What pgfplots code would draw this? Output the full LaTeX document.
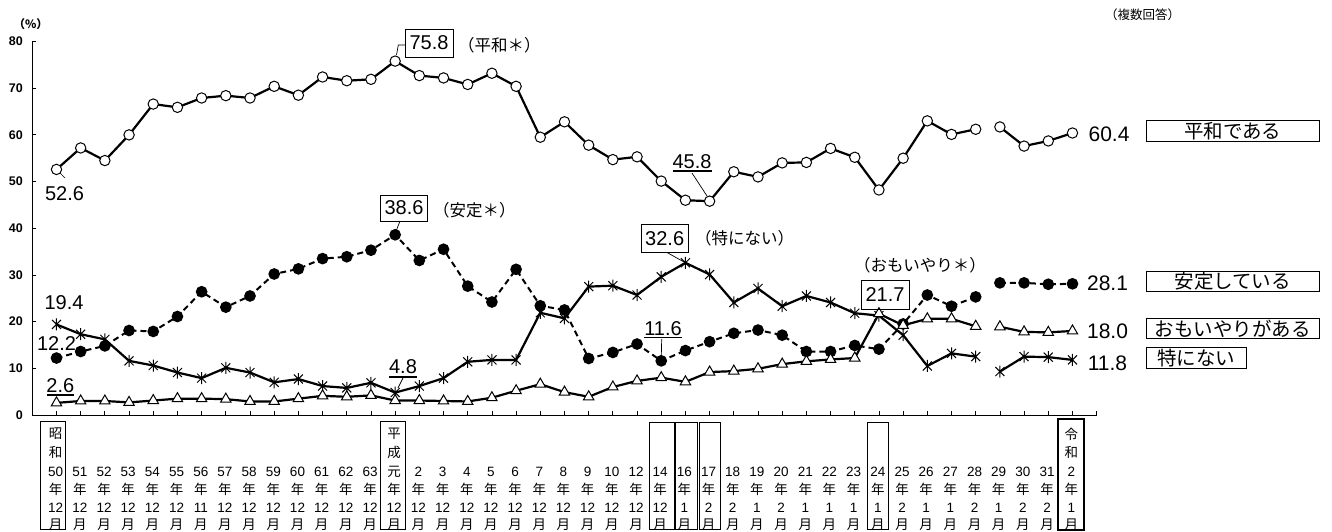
\documentclass[border=0pt]{standalone}
\usepackage{pgfplots}
\pgfplotsset{compat=1.18}
\usepackage{fontspec}
\setmainfont{Liberation Sans}
\newfontfamily\jp{Noto Sans CJK JP}
\newcommand\fs[1]{\fontsize{#1}{#1}\selectfont}

% asterisk with a vertical bar and two 45 degree arms
\pgfdeclareplotmark{xast}{%
  \pgfpathmoveto{\pgfqpoint{0pt}{\pgfplotmarksize}}%
  \pgfpathlineto{\pgfqpoint{0pt}{-\pgfplotmarksize}}%
  \pgfpathmoveto{\pgfqpoint{-0.75\pgfplotmarksize}{0.75\pgfplotmarksize}}%
  \pgfpathlineto{\pgfqpoint{0.75\pgfplotmarksize}{-0.75\pgfplotmarksize}}%
  \pgfpathmoveto{\pgfqpoint{-0.75\pgfplotmarksize}{-0.75\pgfplotmarksize}}%
  \pgfpathlineto{\pgfqpoint{0.75\pgfplotmarksize}{0.75\pgfplotmarksize}}%
  \pgfusepathqstroke}

\begin{document}
\begin{tikzpicture}
\useasboundingbox (0,0) rectangle (1332pt,531pt);
\begin{axis}[
    at={(32.3pt,116pt)}, anchor=south west,
    scale only axis, width=1064.4pt, height=373.5pt,
    xmin=-1, xmax=43, ymin=0, ymax=80,
    axis x line=bottom, axis y line=left,
    axis line style={black, line width=0.9pt, -},
    xtick={0,...,43}, xticklabels={},
    ytick={0,10,...,80},
    tick align=inside,
    major tick length=4pt,
    tick style={black, line width=0.8pt},
    yticklabel style={font=\fs{12.5}\bfseries, xshift=-6pt},
    /pgf/number format/assume math mode=true,
    clip=false,
    unbounded coords=jump,
]

% 平和である
\addplot[black, line width=2.2pt, mark=*, mark size=5.2pt,
    mark options={fill=white, draw=black, line width=1pt}] coordinates {
    (0,52.6) (1,57.2) (2,54.5) (3,60.0) (4,66.6) (5,65.9) (6,67.9) (7,68.4)
    (8,67.9) (9,70.4) (10,68.5) (11,72.4) (12,71.6) (13,71.9) (14,75.8)
    (15,72.7) (16,72.2) (17,70.8) (18,73.2) (19,70.4) (20,59.5) (21,62.8)
    (22,57.8) (23,54.7) (24,55.3) (25,50.1) (26,46.0) (27,45.8) (28,52.1)
    (29,51.0) (30,54.0) (31,54.1) (32,57.1) (33,55.2) (34,48.2) (35,55.0)
    (36,63.0) (37,60.1) (38,61.2) (38.5,nan)
    (39,61.7) (40,57.6) (41,58.7) (42,60.4)
};

% 安定している
\addplot[black, line width=2pt, dash pattern=on 6pt off 4pt, mark=*, mark size=4.8pt,
    mark options={solid, fill=black}] coordinates {
    (0,12.2) (1,13.6) (2,14.8) (3,18.1) (4,17.9) (5,21.1) (6,26.4) (7,23.1)
    (8,25.5) (9,30.2) (10,31.3) (11,33.5) (12,33.9) (13,35.3) (14,38.6)
    (15,33.1) (16,35.5) (17,27.6) (18,24.2) (19,31.2) (20,23.4) (21,22.5)
    (22,12.1) (23,13.4) (24,15.2) (25,11.6) (26,13.8) (27,15.7) (28,17.5)
    (29,18.2) (30,17.1) (31,13.6) (32,13.6) (33,14.9) (34,14.1) (35,19.5)
    (36,25.7) (37,23.3) (38,25.3) (38.5,nan)
    (39,28.3) (40,28.3) (41,28.0) (42,28.1)
};

% 特にない
\addplot[black, line width=2.2pt, mark=xast, mark size=6pt,
    mark options={line width=1pt}] coordinates {
    (0,19.4) (1,17.3) (2,16.2) (3,11.6) (4,10.6) (5,9.1) (6,7.9) (7,10.1)
    (8,9.1) (9,7.0) (10,7.7) (11,6.2) (12,5.8) (13,6.9) (14,4.8)
    (15,6.2) (16,7.9) (17,11.4) (18,11.8) (19,11.8) (20,21.9) (21,20.7)
    (22,27.5) (23,27.7) (24,25.7) (25,29.6) (26,32.6) (27,30.1) (28,24.1)
    (29,27.1) (30,23.3) (31,25.5) (32,24.1) (33,21.8) (34,21.3) (35,17.1)
    (36,10.5) (37,13.2) (38,12.5) (38.5,nan)
    (39,9.3) (40,12.5) (41,12.4) (42,11.8)
};

% おもいやりがある
\addplot[black, line width=2.2pt, mark=triangle*, mark size=6pt,
    mark options={fill=white, draw=black, line width=1pt}] coordinates {
    (0,2.6) (1,3.0) (2,3.0) (3,2.7) (4,3.1) (5,3.5) (6,3.5) (7,3.4)
    (8,2.9) (9,2.9) (10,3.5) (11,4.1) (12,3.9) (13,4.2) (14,3.1)
    (15,3.1) (16,3.0) (17,2.9) (18,3.7) (19,5.2) (20,6.6) (21,4.9)
    (22,3.9) (23,6.0) (24,7.3) (25,8.0) (26,7.1) (27,9.2) (28,9.4)
    (29,9.9) (30,10.9) (31,11.5) (32,11.9) (33,12.2) (34,21.7) (35,19.2)
    (36,20.6) (37,20.6) (38,19.0) (38.5,nan)
    (39,18.9) (40,17.8) (41,17.7) (42,18.0)
};
\end{axis}

\begin{scope}[yshift=531pt, x=1pt, y=-1pt, every node/.style={inner sep=0pt}]
% headers
\node[font=\jp\fs{11.5}\bfseries] at (30.8,24.5) {（\%）};
\node[font=\jp\fs{12.5}, anchor=west] at (1105,15) {（複数回答）};

% value labels
\begin{scope}[every node/.append style={font=\fs{20}}]
\node at (64.5,194) {52.6};
\draw[line width=0.7pt] (60,173) -- (65,178);
\node[draw, line width=0.8pt, minimum width=48pt, minimum height=28pt] at (429,43) {75.8};
\draw[line width=0.7pt] (396.5,55) -- (398.3,45) -- (405,45);
\node[draw, line width=0.8pt, minimum width=47pt, minimum height=26pt] at (404,208) {38.6};
\draw[line width=0.7pt] (400,221) -- (396.5,230);
\node[draw, line width=0.8pt, minimum width=47pt, minimum height=28pt] at (664.7,238.5) {32.6};
\draw[line width=0.7pt] (667,252.5) -- (684,262);
\node[draw, line width=0.8pt, minimum width=48pt, minimum height=29pt] at (885,295) {21.7};
\node at (692,161.5) {45.8};
\draw[line width=1.6pt] (672.5,171) -- (712,171);
\draw[line width=0.7pt] (692,173) -- (707,196);
\node at (663,328.3) {11.6};
\draw[line width=1.6pt] (644,337.3) -- (682.3,337.3);
\draw[line width=0.7pt] (661.7,339) -- (661.3,356);
\node at (403,366.7) {4.8};
\draw[line width=1.6pt] (389,376.7) -- (417,376.7);
\draw[line width=0.7pt] (403,378) -- (398,388);
\node at (60.3,385.3) {2.6};
\draw[line width=1.6pt] (46.7,395) -- (74,395);
\node at (64,302.5) {19.4};
\node at (56.5,344) {12.2};
\node[font=\fs{21}] at (1109,134) {60.4};
\node[font=\fs{21}] at (1107.5,283.5) {28.1};
\node[font=\fs{21}] at (1107.5,331.7) {18.0};
\node[font=\fs{21}] at (1107.5,363.3) {11.8};
\end{scope}

% series notes
\begin{scope}[every node/.append style={font=\jp\fs{16.5}, anchor=west}]
\node at (458,45) {（平和＊）};
\node at (433,210) {（安定＊）};
\node at (695,238) {（特にない）};
\node at (854,265) {（おもいやり＊）};
\end{scope}

% legend boxes
\begin{scope}[every node/.append style={font=\jp\fs{19.5}}]
\draw[line width=0.8pt] (1146,120.7) rectangle (1319.3,141.7);
\node at (1232.7,131.2) {平和である};
\draw[line width=0.8pt] (1146,271) rectangle (1319.3,291.7);
\node at (1232.7,281.3) {安定している};
\draw[line width=0.8pt] (1146,318.3) rectangle (1319.3,338.3);
\node at (1232.7,328.3) {おもいやりがある};
\draw[line width=0.8pt] (1146,347.7) rectangle (1246,368.3);
\node at (1196,358) {特にない};
\end{scope}

% category labels
\begin{scope}[every node/.append style={font=\fs{13.5}}]
\foreach \i/\n/\m in {0/50/12,1/51/12,2/52/12,3/53/12,4/54/12,5/55/12,6/56/11,
    7/57/12,8/58/12,9/59/12,10/60/12,11/61/12,12/62/12,13/63/12,14/{\jp 元}/12,
    15/2/12,16/3/12,17/4/12,18/5/12,19/6/12,20/7/12,21/8/12,22/9/12,23/10/12,
    24/12/12,25/14/12,26/16/1,27/17/2,28/18/2,29/19/1,30/20/2,31/21/1,32/22/1,
    33/23/1,34/24/1,35/25/2,36/26/1,37/27/1,38/28/2,39/29/1,40/30/2,41/31/2,42/2/1} {
  \node at ({56.7+\i*24.18-1},471.7) {\n};
  \node[font=\jp\fs{13.5}] at ({56.7+\i*24.18-1},489) {年};
  \node at ({56.7+\i*24.18-1},507.7) {\m};
  \node[font=\jp\fs{13.5}] at ({56.7+\i*24.18-1},525) {月};
}
\node[font=\jp\fs{13.5}] at (55.7,434) {昭};
\node[font=\jp\fs{13.5}] at (55.7,452.3) {和};
\node[font=\jp\fs{13.5}] at (394.2,434) {平};
\node[font=\jp\fs{13.5}] at (394.2,452.3) {成};
\node[font=\jp\fs{13.5}] at (1071.3,434) {令};
\node[font=\jp\fs{13.5}] at (1071.3,452.3) {和};
\end{scope}
\draw[line width=0.9pt] (40.7,529.5) -- (40.7,421.5) -- (65,421.5) -- (65,529.5) -- cycle;
\draw[line width=0.9pt] (380,529.5) -- (380,421.5) -- (405,421.5) -- (405,529.5) -- cycle;
\draw[line width=0.9pt] (649.3,529.5) -- (649.3,422.7) -- (674.3,422.7) -- (674.3,529.5) -- cycle;
\draw[line width=0.9pt] (675.5,529.5) -- (675.5,422.7) -- (697.5,422.7) -- (697.5,529.5) -- cycle;
\draw[line width=0.9pt] (699.3,529.5) -- (699.3,422.7) -- (720.7,422.7) -- (720.7,529.5) -- cycle;
\draw[line width=0.9pt] (867.3,529.5) -- (867.3,422.7) -- (888.3,422.7) -- (888.3,529.5) -- cycle;
\draw[line width=2pt] (1058,529.5) -- (1058,419) -- (1084,419) -- (1084,529.5) -- cycle;
\end{scope}
\end{tikzpicture}
\end{document}
